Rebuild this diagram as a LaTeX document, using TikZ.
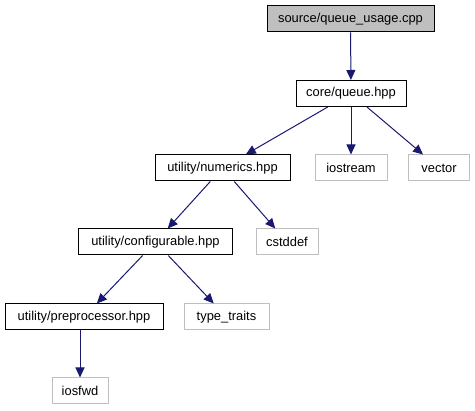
\documentclass[tikz,border=0pt]{standalone}
\usepackage{fontspec}
\setmainfont{Liberation Sans}
\usetikzlibrary{arrows.meta}
\definecolor{edgeblue}{HTML}{191970}
\definecolor{lgray}{HTML}{BFBFBF}
\tikzset{
  box/.style={draw=black, line width=1pt, minimum height=26pt, inner sep=0pt, font=\fontsize{12.9}{14}\selectfont},
  srcbox/.style={box, fill=lgray},
  extbox/.style={box, draw=lgray},
  dep/.style={draw=edgeblue, line width=1pt, -{Triangle[length=10pt,width=9pt]}}
}
\begin{document}
\begin{tikzpicture}[x=1pt,y=-1pt]
\useasboundingbox (0,0) rectangle (475,411);
\node[srcbox, minimum width=167pt] (src) at (350.5,19) {source/queue\_usage.cpp};
\node[box, minimum width=110pt] (core) at (351,93.5) {core/queue.hpp};
\node[box, minimum width=135pt] (num) at (222.5,168) {utility/numerics.hpp};
\node[extbox, minimum width=72pt] (ios) at (351,168) {iostream};
\node[extbox, minimum width=61pt] (vec) at (439,168) {vector};
\node[box, minimum width=154pt] (conf) at (155.5,242) {utility/configurable.hpp};
\node[extbox, minimum width=62pt] (cst) at (287,242) {cstddef};
\node[box, minimum width=158pt] (prep) at (84,317) {utility/preprocessor.hpp};
\node[extbox, minimum width=85pt] (tt) at (226.5,317) {type\_traits};
\node[extbox, minimum width=56pt] (fwd) at (80,391) {iosfwd};
\draw[dep] (src) -- (core);
\draw[dep] (core) -- (num);
\draw[dep] (core) -- (ios);
\draw[dep] (core) -- (vec);
\draw[dep] (num) -- (conf);
\draw[dep] (num) -- (cst);
\draw[dep] (conf) -- (prep);
\draw[dep] (conf) -- (tt);
\draw[dep] (prep.south -| fwd) -- (fwd);
\end{tikzpicture}
\end{document}
